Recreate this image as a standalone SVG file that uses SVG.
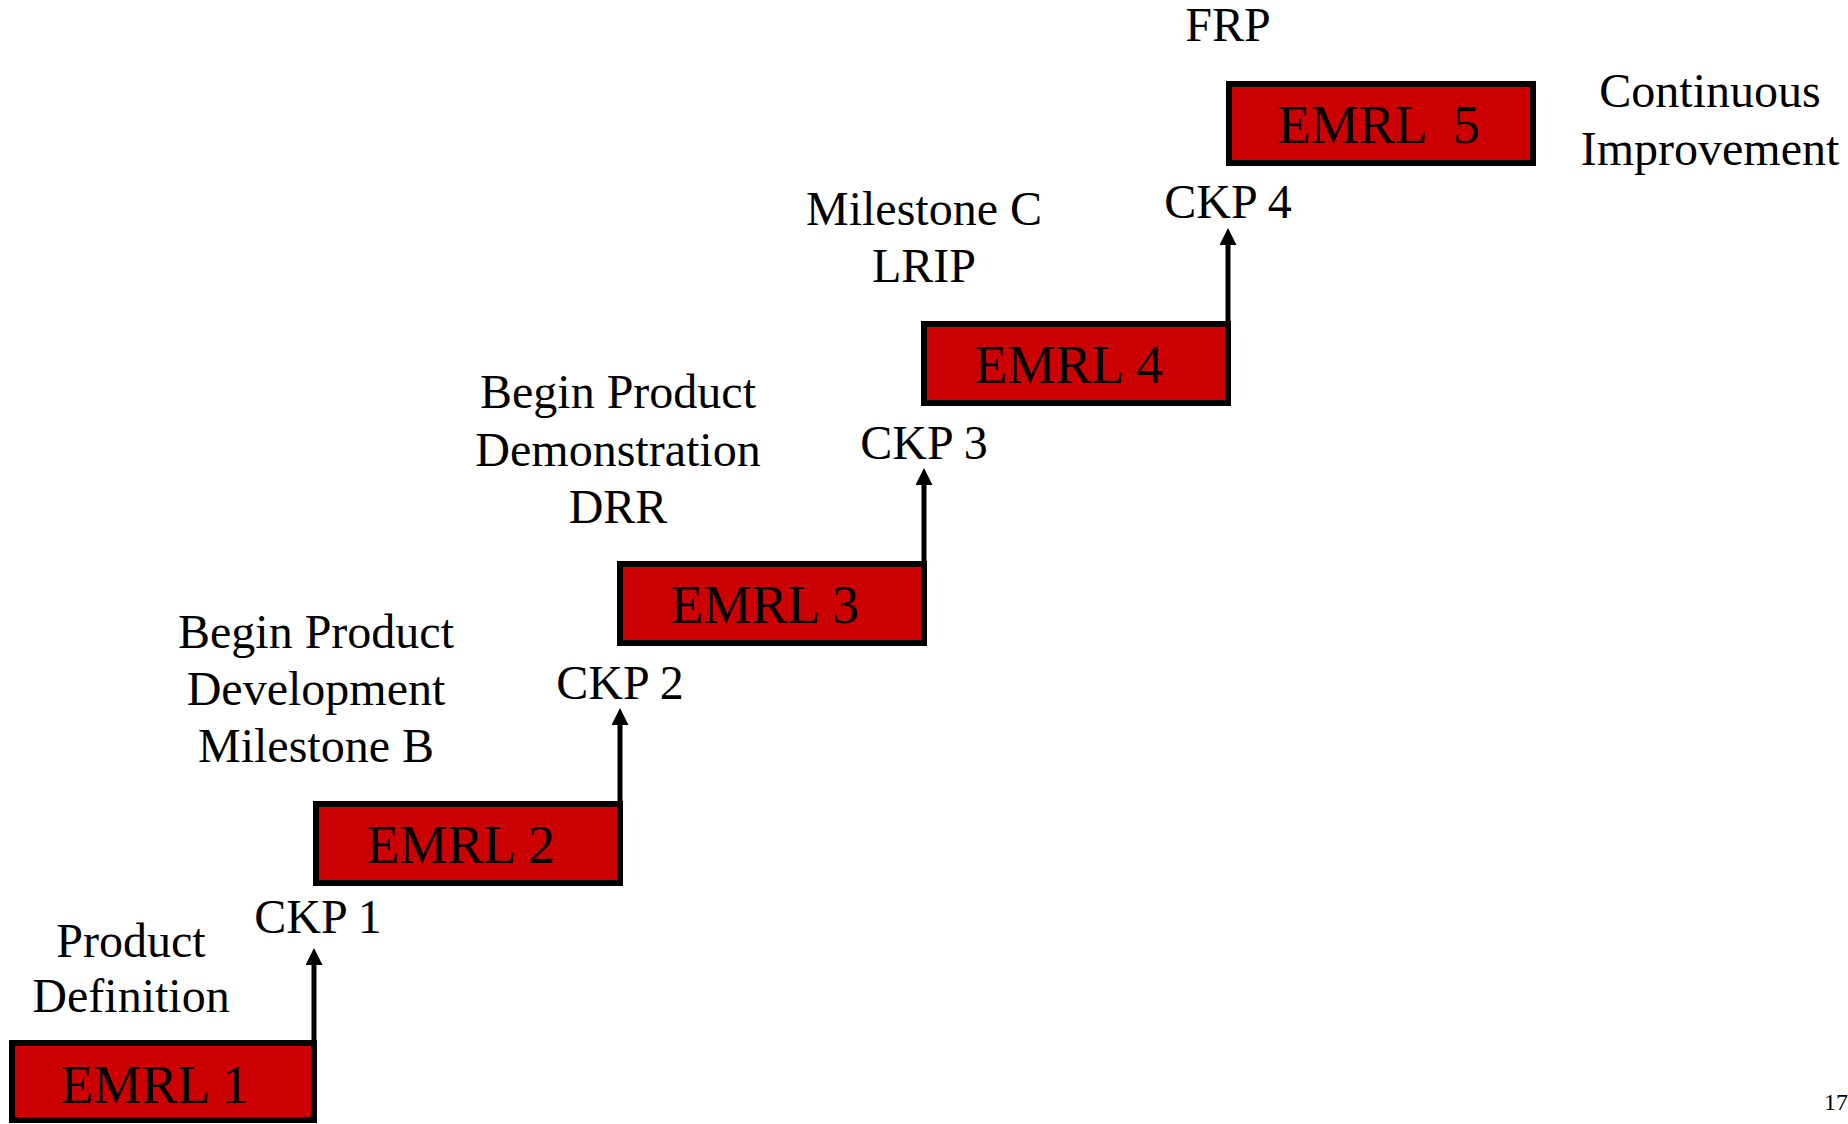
<svg xmlns="http://www.w3.org/2000/svg" width="1848" height="1124" viewBox="0 0 1848 1124">
<style>
.box{fill:#CC0000;stroke:#000;stroke-width:6}
.bt{font-family:"Liberation Serif","Times New Roman",serif;font-size:54px;fill:#000;text-anchor:middle;white-space:pre}
.lb{font-family:"Liberation Serif","Times New Roman",serif;font-size:48px;fill:#000;text-anchor:middle}
.conn{stroke:#000;stroke-width:5;fill:none;marker-end:url(#ah)}
.pg{font-family:"Liberation Serif","Times New Roman",serif;font-size:24px;fill:#000}
</style>
<defs>
<marker id="ah" viewBox="0 0 17 17" markerUnits="userSpaceOnUse" markerWidth="17" markerHeight="17" refX="3" refY="8.5" orient="auto">
<path d="M0,0 L17,8.5 L0,17 z" fill="#000"/>
</marker>
</defs>
<rect width="1848" height="1124" fill="#fff"/>
<g id="connectors">
<line class="conn" x1="314" y1="1043" x2="314" y2="962"/>
<line class="conn" x1="620" y1="804" x2="620" y2="722"/>
<line class="conn" x1="924" y1="564" x2="924" y2="482"/>
<line class="conn" x1="1228" y1="324" x2="1228" y2="242"/>
</g>
<g id="emrl1">
<rect class="box" x="12" y="1043" width="302" height="77"/>
<text class="bt" x="155" y="1103">EMRL 1</text>
</g>
<g id="emrl2">
<rect class="box" x="316" y="804" width="304" height="79"/>
<text class="bt" x="461" y="863">EMRL 2</text>
</g>
<g id="emrl3">
<rect class="box" x="620" y="564" width="304" height="79"/>
<text class="bt" x="765" y="623">EMRL 3</text>
</g>
<g id="emrl4">
<rect class="box" x="924" y="324" width="304" height="79"/>
<text class="bt" x="1069" y="383">EMRL 4</text>
</g>
<g id="emrl5">
<rect class="box" x="1229" y="84" width="304" height="79"/>
<text class="bt" x="1379" y="143" xml:space="preserve">EMRL  5</text>
</g>
<g id="labels">
<text class="lb" x="131" y="957">Product</text>
<text class="lb" x="131" y="1012">Definition</text>
<text class="lb" x="318" y="933">CKP 1</text>
<text class="lb" x="316" y="648">Begin Product</text>
<text class="lb" x="316" y="705">Development</text>
<text class="lb" x="316" y="762">Milestone B</text>
<text class="lb" x="620" y="699">CKP 2</text>
<text class="lb" x="618" y="408">Begin Product</text>
<text class="lb" x="618" y="466">Demonstration</text>
<text class="lb" x="618" y="523">DRR</text>
<text class="lb" x="924" y="459">CKP 3</text>
<text class="lb" x="924" y="225">Milestone C</text>
<text class="lb" x="924" y="282">LRIP</text>
<text class="lb" x="1228" y="218">CKP 4</text>
<text class="lb" x="1228" y="41">FRP</text>
<text class="lb" x="1710" y="107">Continuous</text>
<text class="lb" x="1710" y="165">Improvement</text>
<text class="pg" x="1824" y="1110">17</text>
</g>
</svg>
